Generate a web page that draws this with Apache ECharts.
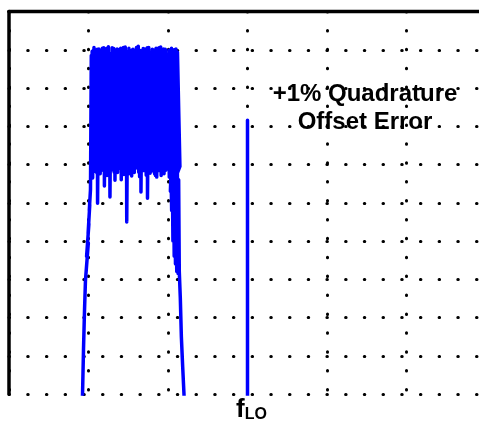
<!DOCTYPE html>
<html>
<head>
<meta charset="utf-8">
<script src="https://cdn.jsdelivr.net/npm/echarts@6/dist/echarts.min.js"></script>
<style>
  html, body { margin: 0; padding: 0; background: #fff; }
  #chart { width: 479px; height: 424px; }
</style>
</head>
<body>
<div id="chart"></div>
<script>
// spectrum trace, [frequency, level dB]; frequency in arbitrary units, 10 per division
const lowerSkirt = [
  [8.8, -125], [9.25, -100], [9.37, -88.5], [9.50, -78.0], [9.62, -70.2],
  [9.98, -60.5], [9.76, -64.0], [10.05, -55.5], [9.95, -58.0], [10.16, -50.5],
  [10.10, -52.0], [10.25, -46.5]
];

const bandTrace = [
  [10.35, -11.5], [10.41, -40.1], [10.46, -10.4], [10.52, -43.5],
  [10.69, -9.4], [10.75, -40.6], [10.80, -11.9], [10.86, -41.8],
  [11.01, -10.6], [11.06, -42.3], [11.10, -9.9], [11.14, -50.1],
  [11.30, -9.8], [11.36, -39.7], [11.41, -10.9], [11.47, -42.4],
  [11.63, -11.0], [11.69, -41.5], [11.74, -9.6], [11.79, -40.7],
  [11.92, -9.5], [11.95, -39.4], [11.97, -10.8], [12.00, -45.6],
  [12.16, -10.3], [12.22, -40.2], [12.27, -9.7], [12.33, -42.9],
  [12.50, -9.2], [12.57, -41.1], [12.63, -11.4], [12.70, -48.5],
  [12.86, -10.9], [12.91, -39.8], [12.97, -9.5], [13.02, -41.4],
  [13.18, -9.7], [13.23, -42.0], [13.28, -10.6], [13.33, -44.1],
  [13.49, -11.3], [13.54, -40.3], [13.60, -9.8], [13.65, -42.1],
  [13.81, -10.0], [13.86, -41.0], [13.92, -11.1], [13.97, -40.5],
  [14.05, -9.6], [14.07, -39.6], [14.10, -10.3], [14.12, -44.0],
  [14.28, -10.7], [14.34, -41.6], [14.39, -9.4], [14.45, -42.6],
  [14.62, -9.3], [14.68, -40.4], [14.75, -10.8], [14.81, -55.0],
  [14.97, -10.4], [15.02, -42.5], [15.08, -9.6], [15.13, -41.2],
  [15.28, -11.6], [15.33, -40.1], [15.38, -10.2], [15.43, -43.0],
  [15.59, -9.9], [15.65, -41.4], [15.70, -11.0], [15.76, -42.1],
  [15.92, -10.8], [15.98, -39.9], [16.03, -9.4], [16.09, -40.9],
  [16.26, -9.1], [16.32, -42.0], [16.37, -10.5], [16.43, -43.2],
  [16.52, -10.2], [16.55, -40.6], [16.57, -11.3], [16.60, -47.2],
  [16.77, -11.0], [16.83, -41.3], [16.88, -9.7], [16.94, -41.6],
  [17.10, -9.8], [17.15, -40.0], [17.21, -10.9], [17.26, -42.8],
  [17.34, -10.5], [17.37, -41.6], [17.39, -9.5], [17.42, -48.8],
  [17.58, -9.4], [17.64, -39.9], [17.69, -10.6], [17.75, -42.3],
  [17.92, -11.2], [17.98, -41.7], [18.03, -9.9], [18.09, -40.6],
  [18.25, -10.1], [18.31, -42.4], [18.36, -11.0], [18.42, -42.9],
  [18.50, -9.6], [18.53, -40.2], [18.55, -10.4], [18.58, -43.3],
  [18.75, -10.9], [18.81, -40.8], [18.86, -9.5], [18.92, -41.6],
  [19.08, -9.3], [19.14, -42.9], [19.19, -10.7], [19.25, -42.2],
  [19.38, -10.6], [19.42, -40.3], [19.46, -9.8], [19.50, -42.4],
  [19.66, -9.9], [19.72, -41.5], [19.77, -11.2], [19.83, -41.1],
  [20.00, -11.1], [20.05, -40.5], [20.11, -10.1], [20.16, -43.3],
  [20.33, -10.0], [20.39, -41.2], [20.44, -9.6], [20.50, -42.0],
  [20.66, -10.7], [20.72, -42.6], [20.77, -10.0], [20.83, -43.5],
  [21.00, -9.8], [21.03, -41.5], [21.07, -10.9], [21.10, -42.0],
  [21.19, -10.6]
];

const upperSkirt = [
  [21.50, -40.5], [20.30, -47.0], [20.38, -42.0], [20.46, -52.0], [20.54, -42.0],
  [20.62, -60.0], [20.70, -43.0], [20.78, -64.0], [20.86, -42.0], [20.94, -66.0],
  [21.02, -43.0], [21.10, -68.0], [21.18, -42.0], [21.26, -68.5], [21.34, -44.0],
  [21.42, -68.0], [21.55, -75.0], [21.68, -85.0], [21.85, -93.0], [22.01, -100],
  [22.14, -108], [22.3, -130]
];

const loLeakage = [[30, -130], [30, -28.4], [30, -130], [62, -130]];

const loFreq = 30;
const loLabel = ["f", "LO"];
const noteLines = ["+1% Quadrature", "Offset Error"];

const trace = [...lowerSkirt, ...bandTrace, ...upperSkirt, ...loLeakage];

const font = "'Liberation Sans', Arial, sans-serif";
const dotted = (gap) => ({ color: "#000", width: 3, type: [0.5, gap], cap: "round" });

const chart = echarts.init(document.getElementById("chart"), null, { renderer: "canvas" });

chart.setOption({
  animation: false,
  backgroundColor: "#fff",
  grid: { left: 9, right: -7, top: 11.5, bottom: 30, containLabel: false, outerBoundsMode: "none" },
  xAxis: [
    {
      type: "value",
      min: 0,
      max: 60,
      interval: 10,
      axisLine: { lineStyle: { color: "#000", width: 3.3 } },
      axisTick: { show: false },
      splitLine: { show: true, lineStyle: dotted(18.4) },
      axisLabel: {
        interval: 0,
        margin: 2.5,
        padding: [0, 0, 0, 8],
        formatter: v => (v === loFreq ? `{f|${loLabel[0]}}{s|${loLabel[1]}}` : ""),
        rich: {
          f: { fontSize: 26, lineHeight: 26, fontWeight: "bold", fontFamily: font, color: "#000" },
          s: { fontSize: 16, lineHeight: 11, verticalAlign: "bottom", fontWeight: "bold", fontFamily: font, color: "#000" }
        }
      }
    },
    {
      type: "value",
      position: "top",
      min: 0,
      max: 60,
      interval: 10,
      axisLine: { lineStyle: { color: "#000", width: 3 } },
      axisTick: { show: false },
      axisLabel: { show: false },
      splitLine: { show: false }
    }
  ],
  yAxis: {
    type: "value",
    min: -100,
    max: 0,
    interval: 10,
    axisLine: { show: true, lineStyle: { color: "#000", width: 3.5 } },
    axisTick: { show: false },
    axisLabel: { show: false },
    splitLine: { show: true, lineStyle: dotted(18.2) }
  },
  graphic: noteLines.map((line, i) => ({
    type: "text",
    x: 365,
    y: 94 + i * 28,
    style: {
      text: line,
      fill: "#000",
      font: `bold 24px ${font}`,
      align: "center",
      verticalAlign: "middle"
    }
  })),
  series: [
    {
      type: "line",
      data: trace,
      showSymbol: false,
      clip: true,
      lineStyle: { color: "#0000ff", width: 3.5, join: "round" }
    }
  ]
});
</script>
</body>
</html>
